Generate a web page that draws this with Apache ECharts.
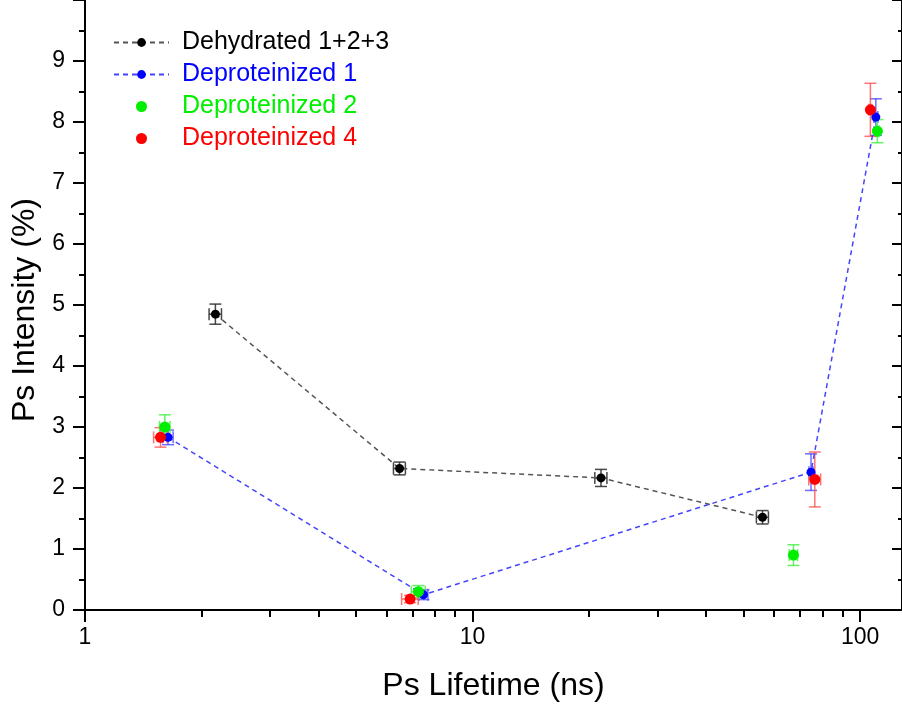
<!DOCTYPE html>
<html>
<head>
<meta charset="utf-8">
<script src="https://cdn.jsdelivr.net/npm/echarts@6/dist/echarts.min.js"></script>
<style>
  html, body { margin: 0; padding: 0; background: #fff; }
  #chart { width: 902px; height: 708px; }
</style>
</head>
<body>
<div id="chart"></div>
<script>
// series names
const seriesNames = ['Dehydrated 1+2+3', 'Deproteinized 1', 'Deproteinized 2', 'Deproteinized 4'];

// Dehydrated 1+2+3 (black)
const blackX = [2.17, 6.48, 21.45, 56.0];
const blackY = [4.85, 2.32, 2.165, 1.52];
const blackXErr = [0.08, 0.23, 0.77, 2.0];
const blackYErr = [0.165, 0.105, 0.14, 0.11];

// Deproteinized 1 (blue)
const blueX = [1.638, 7.47, 74.7, 109.8];
const blueY = [2.83, 0.25, 2.26, 8.08];
const blueXErr = [0.05, 0.2, 0.9, 1.3];
const blueYErr = [0.12, 0.08, 0.30, 0.30];

// Deproteinized 2 (green)
const greenX = [1.607, 7.25, 67.3, 110.8];
const greenY = [3.0, 0.30, 0.90, 7.85];
const greenXErr = [0.05, 0.3, 1.7, 1.0];
const greenYErr = [0.2, 0.1, 0.17, 0.19];

// Deproteinized 4 (red)
const redX = [1.566, 6.90, 76.4, 106.3];
const redY = [2.83, 0.18, 2.14, 8.20];
const redXErr = [0.063, 0.34, 2.7, 1.0];
const redYErr = [0.16, 0.06, 0.45, 0.435];

// axis ticks
const xMajorTicks = [1, 10, 100];
const xMinorTicks = [2, 3, 4, 5, 6, 7, 8, 9, 20, 30, 40, 50, 60, 70, 80, 90];

const FONT = 'Liberation Sans';

const pairs = (xs, ys) => xs.map((x, i) => [x, ys[i]]);
const errRows = (xs, ys, xe, ye) => xs.map((x, i) => [x, ys[i], xe[i], ye[i]]);

// error bars drawn through the axes' own coordinate mapping
const errorSeries = (name, rows, color) => ({
  name: name,
  type: 'custom',
  data: rows,
  encode: { x: 0, y: 1 },
  z: 1,
  silent: true,
  renderItem: (params, api) => {
    const x = api.value(0), y = api.value(1), xe = api.value(2), ye = api.value(3);
    const c = api.coord([x, y]);
    const left = api.coord([x - xe, y]);
    const right = api.coord([x + xe, y]);
    const top = api.coord([x, y + ye]);
    const bottom = api.coord([x, y - ye]);
    const cap = 6;
    const style = { stroke: color, lineWidth: 1.5, fill: null };
    const line = (x1, y1, x2, y2) => ({ type: 'line', shape: { x1, y1, x2, y2 }, style });
    return {
      type: 'group',
      children: [
        line(c[0], top[1], c[0], bottom[1]),
        line(c[0] - cap, top[1], c[0] + cap, top[1]),
        line(c[0] - cap, bottom[1], c[0] + cap, bottom[1]),
        line(left[0], c[1], right[0], c[1]),
        line(left[0], c[1] - cap, left[0], c[1] + cap),
        line(right[0], c[1] - cap, right[0], c[1] + cap)
      ]
    };
  }
});

const chart = echarts.init(document.getElementById('chart'), null, { renderer: 'canvas' });

const axisLineStyle = { color: '#000', width: 2 };
const xMax = Math.pow(10, 819 / 388.5);

chart.setOption({
  animation: false,
  backgroundColor: '#fff',
  textStyle: { fontFamily: FONT },
  grid: { left: 85, top: -26, width: 819, height: 636 },
  legend: {
    orient: 'vertical',
    left: 113,
    top: 30,
    padding: 0,
    itemWidth: 55,
    itemHeight: 11,
    itemGap: 7,
    textStyle: { fontSize: 25, fontFamily: FONT, padding: [0, 0, 0, 8], lineHeight: 25 },
    data: [
      { name: seriesNames[0], textStyle: { color: '#000' } },
      { name: seriesNames[1], textStyle: { color: '#0000ff' } },
      { name: seriesNames[2], textStyle: { color: '#00ee00' } },
      { name: seriesNames[3], textStyle: { color: '#ff0000' } }
    ]
  },
  xAxis: [
    {
      type: 'log',
      min: 1,
      max: xMax,
      position: 'bottom',
      axisLine: { show: true, onZero: false, lineStyle: axisLineStyle },
      axisTick: { show: true, length: 12, lineStyle: { width: 2, color: '#000' }, customValues: xMajorTicks },
      axisLabel: { fontSize: 23, color: '#000', margin: 16, fontFamily: FONT, customValues: xMajorTicks },
      splitLine: { show: false },
      name: 'Ps Lifetime (ns)',
      nameLocation: 'middle',
      nameGap: 60,
      nameTextStyle: { fontSize: 32, color: '#000', fontFamily: FONT }
    },
    {
      // minor ticks of the log axis
      type: 'log',
      min: 1,
      max: xMax,
      position: 'bottom',
      axisLine: { show: false },
      axisTick: { show: true, length: 7, lineStyle: { width: 2, color: '#000' }, customValues: xMinorTicks },
      axisLabel: { show: false },
      splitLine: { show: false }
    }
  ],
  yAxis: [
    {
      type: 'value',
      min: 0,
      max: 10,
      interval: 1,
      position: 'left',
      axisLine: { show: true, onZero: false, lineStyle: axisLineStyle },
      axisTick: { show: true, length: 12, lineStyle: { width: 2, color: '#000' } },
      minorTick: { show: true, splitNumber: 2, length: 6, lineStyle: { width: 2, color: '#000' } },
      axisLabel: { fontSize: 23, color: '#000', margin: 20, fontFamily: FONT, showMaxLabel: false },
      splitLine: { show: false },
      name: 'Ps Intensity (%)',
      nameLocation: 'middle',
      nameGap: 40,
      nameTextStyle: { fontSize: 32, color: '#000', fontFamily: FONT, padding: [0, 10, 0, 0] }
    },
    {
      type: 'value',
      min: 0,
      max: 10,
      interval: 1,
      position: 'right',
      axisLine: { show: true, onZero: false, lineStyle: axisLineStyle },
      axisTick: { show: true, inside: true, length: 10, lineStyle: { width: 2, color: '#000' } },
      minorTick: { show: true, splitNumber: 2, length: 4, lineStyle: { width: 2, color: '#000' } },
      axisLabel: { show: false },
      splitLine: { show: false }
    }
  ],
  series: [
    errorSeries('err-black', errRows(blackX, blackY, blackXErr, blackYErr), 'rgba(40,40,40,0.85)'),
    errorSeries('err-blue', errRows(blueX, blueY, blueXErr, blueYErr), 'rgba(60,60,255,0.75)'),
    errorSeries('err-green', errRows(greenX, greenY, greenXErr, greenYErr), 'rgba(60,240,60,0.8)'),
    errorSeries('err-red', errRows(redX, redY, redXErr, redYErr), 'rgba(255,80,80,0.8)'),
    {
      name: seriesNames[0],
      type: 'line',
      data: pairs(blackX, blackY),
      symbol: 'circle',
      symbolSize: 9,
      itemStyle: { color: '#000' },
      lineStyle: { color: '#555', width: 1.5, type: [5, 4] },
      z: 3
    },
    {
      name: seriesNames[1],
      type: 'line',
      data: pairs(blueX, blueY),
      symbol: 'circle',
      symbolSize: 9,
      itemStyle: { color: '#0000ff' },
      lineStyle: { color: '#4444ff', width: 1.5, type: [5, 4] },
      z: 3
    },
    {
      name: seriesNames[2],
      type: 'scatter',
      data: pairs(greenX, greenY),
      symbol: 'circle',
      symbolSize: 11,
      itemStyle: { color: '#00ee00', opacity: 1 },
      z: 4
    },
    {
      name: seriesNames[3],
      type: 'scatter',
      data: pairs(redX, redY),
      symbol: 'circle',
      symbolSize: 11,
      itemStyle: { color: '#ff0000', opacity: 1 },
      z: 5
    }
  ]
});
</script>
</body>
</html>
